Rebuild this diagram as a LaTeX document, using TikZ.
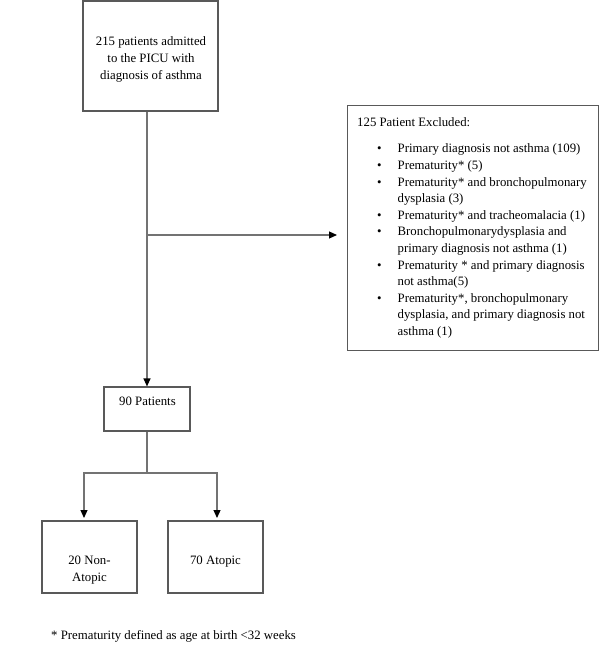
\documentclass[tikz,border=0pt]{standalone}
\usepackage{fontspec}
\setmainfont{Liberation Serif}
\usetikzlibrary{arrows.meta}
\begin{document}
\begin{tikzpicture}[x=1pt,y=-1pt,
  box/.style={draw=black!65, line width=1.2pt, inner sep=0pt},
  txt/.style={font=\fontsize{12.8}{16.6}\selectfont, align=center, inner sep=0pt},
  conn/.style={draw=black!55, line width=1.2pt},
  arr/.style={conn, -{Triangle[length=8pt,width=7pt,color=black]}}]
\useasboundingbox (0,0) rectangle (600,661);

% boxes
\node[box, minimum width=135, minimum height=110] (adm) at (150.5,56) {};
\node[txt] (admt) at (151,59.5) {215 patients admitted\\to the PICU with\\diagnosis of asthma};
\node[box, minimum width=251, minimum height=245, anchor=north west] (exc) at (347,105) {};
\node[txt, anchor=base west] (exch) at (357,126) {125 Patient Excluded:};
\node[txt, anchor=north west] (excl) at (377,141) {%
\begin{tabular}{@{}c@{\hspace{16pt}}l@{}}
\textbullet & Primary diagnosis not asthma (109)\\
\textbullet & Prematurity* (5)\\
\textbullet & Prematurity* and bronchopulmonary\\
 & dysplasia (3)\\
\textbullet & Prematurity* and tracheomalacia (1)\\
\textbullet & Bronchopulmonarydysplasia and\\
 & primary diagnosis not asthma (1)\\
\textbullet & Prematurity * and primary diagnosis\\
 & not asthma(5)\\
\textbullet & Prematurity*, bronchopulmonary\\
 & dysplasia, and primary diagnosis not\\
 & asthma (1)
\end{tabular}};

\node[box, minimum width=86, minimum height=44] (pat) at (147,409) {};
\node[txt] (patt) at (147.5,401) {90 Patients};

\node[box, minimum width=95, minimum height=72] (nat) at (89.5,557) {};
\node[txt] (natt) at (89.5,570) {20 Non-\\Atopic};
\node[box, minimum width=95, minimum height=72] (ato) at (215.5,557) {};
\node[txt] (atot) at (215.5,562) {70 Atopic};

\node[txt, anchor=base west] (fn) at (51,639) {* Prematurity defined as age at birth <32 weeks};

% connectors
\coordinate (top) at ([xshift=-3.5pt]adm.south);
\coordinate (br) at (147,235);
\draw[arr] (top) -- (pat.north);
\draw[arr, shorten >=10pt] (br) -- (exc.west |- br);
\coordinate (split) at (147,473);
\draw[conn] (pat.south) -- (split);
\draw[arr, shorten >=3pt] (split) -| (84,521);
\draw[arr, shorten >=3pt] (split) -| (217,521);
\end{tikzpicture}
\end{document}
